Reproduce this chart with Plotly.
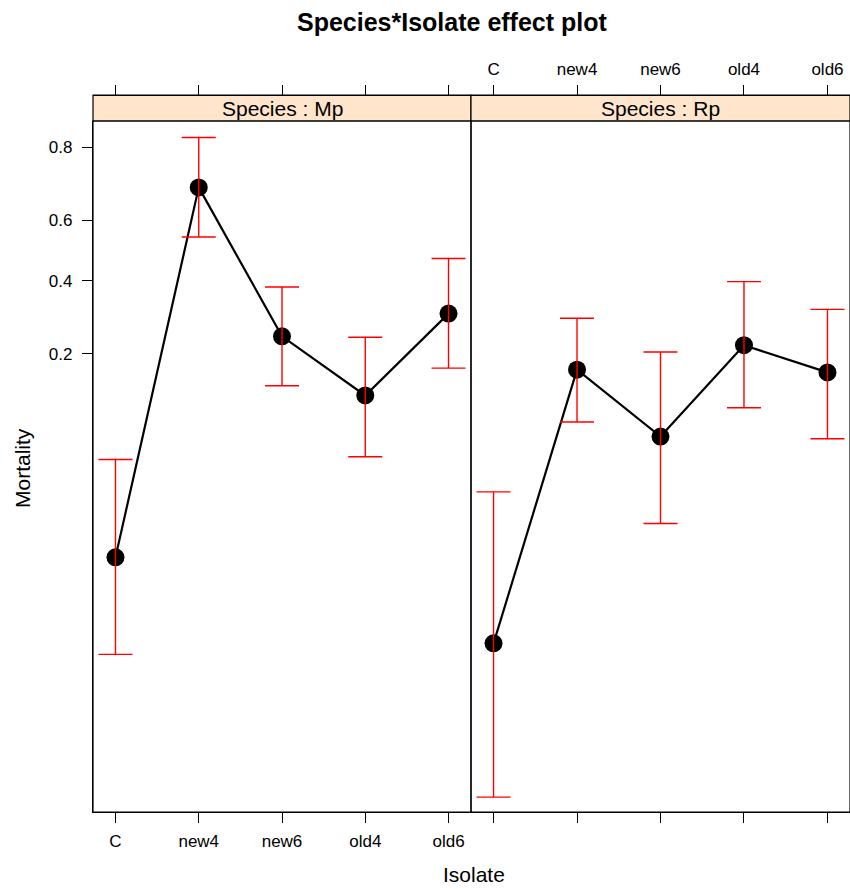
import numpy as np
import plotly.graph_objects as go

isolates = ["C", "new4", "new6", "old4", "old6"]
panels = ["Mp", "Rp"]

# fitted mortality (probability scale) and 95% limits
mp_fit = [0.016, 0.70, 0.24, 0.125, 0.30]
mp_lower = [0.0044, 0.545, 0.14, 0.059, 0.171]
mp_upper = [0.057, 0.82, 0.38, 0.238, 0.473]

rp_fit = [0.0051, 0.168, 0.076, 0.219, 0.163]
rp_lower = [0.00065, 0.091, 0.025, 0.108, 0.074]
rp_upper = [0.0377, 0.287, 0.204, 0.397, 0.312]

ytick_vals = [0.2, 0.4, 0.6, 0.8]


def logit(p):
    p = np.asarray(p, dtype=float)
    return np.log(p / (1 - p))


W, H = 850, 889
L, T, R = 93, 95, 0
B = H - 812
plot_top_px, plot_bot_px = 121, 812
PW, PH = W - L - R, H - T - B
ydom_top = (plot_bot_px - plot_top_px) / PH


def px_x(x_img):
    return (x_img - L) / PW


def px_y(y_img):
    return (H - B - y_img) / PH


fig = go.Figure()

series = [(mp_fit, mp_lower, mp_upper), (rp_fit, rp_lower, rp_upper)]
xpos = list(range(len(isolates)))
for i, (fit, lo, up) in enumerate(series):
    xa = "x" if i == 0 else "x2"
    yf = logit(fit)
    fig.add_trace(go.Scatter(
        x=xpos, y=yf, mode="lines+markers", xaxis=xa, yaxis="y",
        line=dict(color="black", width=2.2),
        marker=dict(size=18, color="black"),
        showlegend=False))
for i, (fit, lo, up) in enumerate(series):
    xa = "x" if i == 0 else "x2"
    yf, yl, yu = logit(fit), logit(lo), logit(up)
    fig.add_trace(go.Scatter(
        x=xpos, y=yf, mode="markers", xaxis=xa, yaxis="y",
        marker=dict(size=1, color="rgba(0,0,0,0)"),
        error_y=dict(type="data", symmetric=False, array=yu - yf, arrayminus=yf - yl,
                     color="#FF0000", thickness=1.4, width=17),
        showlegend=False, hoverinfo="skip"))

xr = [-0.27, 4.27]
split = (471 - L) / PW
FONT = "Liberation Sans, Arial"
tickfont = dict(family=FONT, size=17, color="black")
common_x = dict(range=xr, tickmode="array", tickvals=xpos, ticktext=isolates,
                ticks="outside", ticklen=10, tickwidth=1.2, tickcolor="black",
                showgrid=False, zeroline=False, showline=True, linecolor="black",
                linewidth=1.2, tickfont=tickfont, fixedrange=True)

fig.update_layout(
    width=W, height=H,
    margin=dict(l=L, r=R, t=T, b=B, autoexpand=False),
    plot_bgcolor="white", paper_bgcolor="white",
    xaxis=dict(domain=[0, split], anchor="y", side="bottom", showticklabels=True,
               ticklabelstandoff=3, **common_x),
    xaxis2=dict(domain=[split, 1], anchor="y", side="bottom", showticklabels=False, **common_x),
    xaxis3=dict(overlaying="x2", side="top", anchor="free", position=1, showticklabels=True,
                ticklabelstandoff=3, **common_x),
    xaxis4=dict(overlaying="x", side="top", anchor="free", position=1, showticklabels=False, **common_x),
    yaxis=dict(domain=[0, ydom_top], range=[(250.5 - 812) / 74.5, (250.5 - 121) / 74.5],
               tickmode="array", tickvals=list(logit(ytick_vals)),
               ticktext=[f"{v:.1f}" for v in ytick_vals],
               ticks="outside", ticklen=10, tickwidth=1.2, tickcolor="black",
               ticklabelstandoff=6,
               showgrid=False, zeroline=False, showline=True, linecolor="black",
               linewidth=1.2, tickfont=tickfont, fixedrange=True),
)
# dummy traces to show top axes
fig.add_trace(go.Scatter(x=[None], y=[None], xaxis="x3", yaxis="y", showlegend=False))
fig.add_trace(go.Scatter(x=[None], y=[None], xaxis="x4", yaxis="y", showlegend=False))

# panel frames and strips
for i, name in enumerate(panels):
    x0, x1 = (0, split) if i == 0 else (split, 1)
    fig.add_shape(type="rect", xref="paper", yref="paper", x0=x0, x1=x1, y0=0, y1=ydom_top,
                  line=dict(color="black", width=1.2), fillcolor="rgba(0,0,0,0)", layer="above")
    fig.add_shape(type="rect", xref="paper", yref="paper", x0=x0, x1=x1, y0=ydom_top, y1=1,
                  line=dict(color="black", width=1.2), fillcolor="#FFE5CC", layer="below")
    fig.add_annotation(xref="paper", yref="paper", x=(x0 + x1) / 2, y=(ydom_top + 1) / 2,
                       text=f"Species : {name}", showarrow=False,
                       font=dict(family=FONT, size=21, color="black"),
                       xanchor="center", yanchor="middle")

fig.add_annotation(xref="paper", yref="paper", x=px_x(452), y=px_y(22),
                   text="<b>Species*Isolate effect plot</b>", showarrow=False,
                   font=dict(family=FONT, size=25, color="black"),
                   xanchor="center", yanchor="middle")
fig.add_annotation(xref="paper", yref="paper", x=px_x(22), y=px_y(468),
                   text="Mortality", textangle=-90, showarrow=False,
                   font=dict(family=FONT, size=21, color="black"),
                   xanchor="center", yanchor="middle")
fig.add_annotation(xref="paper", yref="paper", x=px_x(474), y=px_y(874),
                   text="Isolate", showarrow=False,
                   font=dict(family=FONT, size=21, color="black"),
                   xanchor="center", yanchor="middle")

fig.write_html("out.html", config={"displayModeBar": False},
               post_script="document.body.style.margin='0';document.body.style.overflow='hidden';")
